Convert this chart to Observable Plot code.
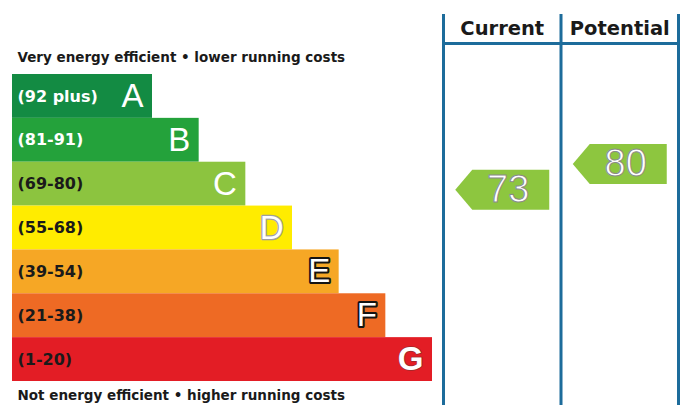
<!DOCTYPE html>
<html>
<head>
<meta charset="utf-8">
<script src="https://cdn.jsdelivr.net/npm/d3@7"></script>
<script src="https://cdn.jsdelivr.net/npm/@observablehq/plot@0.6"></script>
<style>
  html, body { margin: 0; padding: 0; background: #fff; }
  #chart { display: flex; width: 688px; height: 405px; overflow: hidden; }
  #chart svg { display: block; flex: none; }
</style>
</head>
<body>
<div id="chart"></div>
<script>
// ---- data ----
const ratings = ["A", "B", "C", "D", "E", "F", "G"];
const scoreRanges = ["(92 plus)", "(81-91)", "(69-80)", "(55-68)", "(39-54)", "(21-38)", "(1-20)"];
const bandLow = [92, 81, 69, 55, 39, 21, 1];
const bandHigh = [100, 91, 80, 68, 54, 38, 20];
const columns = ["Current", "Potential"];
const scores = [73, 80];
const topNote = "Very energy efficient \u2022 lower running costs";
const bottomNote = "Not energy efficient \u2022 higher running costs";

// ---- styles ----
const bandFill = {A: "#138b43", B: "#24a23b", C: "#8cc43f", D: "#ffec00", E: "#f6a725", F: "#ee6a24", G: "#e31d25"};
const labelFill = {A: "#ffffff", B: "#ffffff", C: "#1a1a1a", D: "#1a1a1a", E: "#1a1a1a", F: "#1a1a1a", G: "#1a1a1a"};
const lineColor = "#1d6c9b";
const arrowFill = "#8dc63f";
const labelFont = "DejaVu Sans, sans-serif";
const letterFont = "Liberation Sans, Arial, sans-serif";

const bands = ratings.map((r, i) => ({rating: r, range: scoreRanges[i], index: i, lo: bandLow[i], hi: bandHigh[i]}));
// vertical position (in rows) of a score inside its band
function rowOf(s) {
  const b = bands.find(b => s >= b.lo && s <= b.hi);
  return b.index + (b.hi + 0.5 - s) / (b.hi - b.lo + 1);
}
const marks = columns.map((c, i) => ({column: c, col: i, score: scores[i], row: rowOf(scores[i])}));

// ---- left: rating bars ----
const left = Plot.plot({
  width: 440, height: 405,
  marginLeft: 12, marginRight: 8, marginTop: 74, marginBottom: 24,
  x: {domain: [0, 9], axis: null},
  y: {domain: ratings, padding: 0, round: false, axis: null},
  color: {type: "identity"},
  marks: [
    Plot.barX(bands, {x: d => d.index + 3, y: "rating", fill: d => bandFill[d.rating]}),
    Plot.text(bands, {frameAnchor: "left", y: "rating", text: "range", dx: 5, textAnchor: "start",
      lineAnchor: "middle", fill: d => labelFill[d.rating], fontFamily: labelFont, fontWeight: "bold", fontSize: 16}),
    // plain white letters
    Plot.text(bands.filter(d => "ABC".includes(d.rating)), {x: d => d.index + 3, y: "rating", text: "rating",
      dx: -9, textAnchor: "end", lineAnchor: "middle", fill: "white", fontFamily: letterFont, fontSize: 33}),
    // D: light outline
    Plot.text(bands.filter(d => d.rating === "D"), {x: d => d.index + 3, y: "rating", text: "rating",
      dx: -9, textAnchor: "end", lineAnchor: "middle", fill: "white", stroke: "#a0a0a0", strokeWidth: 2.5,
      fontFamily: letterFont, fontSize: 33}),
    // E, F: black outline
    Plot.text(bands.filter(d => "EF".includes(d.rating)), {x: d => d.index + 3, y: "rating", text: "rating",
      dx: -9, textAnchor: "end", lineAnchor: "middle", fill: "white", stroke: "#141414", strokeWidth: 4,
      fontFamily: letterFont, fontSize: 33}),
    // G: bold white
    Plot.text(bands.filter(d => d.rating === "G"), {x: d => d.index + 3, y: "rating", text: "rating",
      dx: -9, textAnchor: "end", lineAnchor: "middle", fill: "white", stroke: "#9a2a2a", strokeWidth: 1.5,
      fontFamily: letterFont, fontWeight: "bold", fontSize: 33}),
    Plot.text([topNote], {frameAnchor: "top-left", text: d => d, dx: 5, dy: -17, textAnchor: "start",
      lineAnchor: "middle", fill: "#1a1a1a", fontFamily: labelFont, fontWeight: "bold", fontSize: 13.5}),
    Plot.text([bottomNote], {frameAnchor: "bottom-left", text: d => d, dx: 5, dy: 14, textAnchor: "start",
      lineAnchor: "middle", fill: "#1a1a1a", fontFamily: labelFont, fontWeight: "bold", fontSize: 13.5})
  ]
});

// ---- right: current / potential columns ----
const arrowSymbol = {
  draw(ctx) {
    ctx.moveTo(-47, 0);
    ctx.lineTo(-30, -20);
    ctx.lineTo(47, -20);
    ctx.lineTo(47, 20);
    ctx.lineTo(-30, 20);
    ctx.closePath();
  }
};

const right = Plot.plot({
  width: 248, height: 405,
  marginLeft: 3, marginRight: 10, marginTop: 43, marginBottom: 0,
  x: {domain: [0, columns.length], axis: null},
  y: {domain: [0, ratings.length], range: [74, 381], axis: null},
  marks: [
    Plot.ruleX(d3.range(columns.length + 1), {x: d => d, stroke: lineColor, strokeWidth: 3, insetTop: -29}),
    Plot.frame({anchor: "top", stroke: lineColor, strokeWidth: 3}),
    Plot.text(marks, {x: d => d.col + 0.5, frameAnchor: "top", text: "column", dy: -15, lineAnchor: "middle",
      fill: "#1a1a1a", fontFamily: labelFont, fontWeight: "bold", fontSize: 19.5}),
    Plot.dot(marks, {x: d => d.col + 0.5, y: "row", symbol: arrowSymbol, fill: arrowFill, stroke: "none"}),
    Plot.text(marks, {x: d => d.col + 0.5, y: "row", text: d => String(d.score), dx: 6, lineAnchor: "middle",
      fill: "white", stroke: "#8a8a8a", strokeWidth: 1, paintOrder: "normal",
      fontFamily: letterFont, fontSize: 38})
  ]
});

document.getElementById("chart").append(left, right);
</script>
</body>
</html>
